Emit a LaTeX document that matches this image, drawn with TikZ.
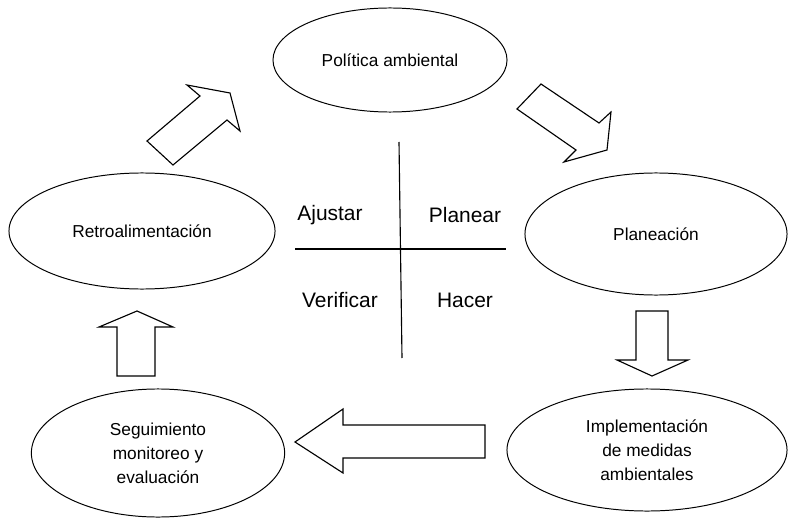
\documentclass[tikz,border=0pt]{standalone}
\usepackage{fontspec}
\setmainfont{Liberation Sans}
\usetikzlibrary{shapes.geometric}
\tikzset{
	etapa/.style = {draw, ellipse, line width=0.7pt, align=center, inner sep=0pt,
		font=\fontsize{12.3}{17}\selectfont},
	fase/.style = {font=\fontsize{14.9}{18}\selectfont},
	flecha/.style = {draw, line width=0.8pt, line join=miter}
}

\begin{document}
\begin{tikzpicture}[x=0.025cm, y=-0.025cm]
	\useasboundingbox (0,0) rectangle (788,518);
	
	% etapas del ciclo
	\node [etapa, minimum width=5.85cm, minimum height=2.6cm] (politica) at (390,60) {Política ambiental};
	\node [etapa, minimum width=6.55cm, minimum height=3.05cm] (planeacion) at (656,234) {Planeación};
	\node [etapa, minimum width=7.0cm, minimum height=3.05cm] (implementacion) at (647,450) {Implementación\\de medidas\\ambientales};
	\node [etapa, minimum width=6.33cm, minimum height=3.2cm] (seguimiento) at (158,453) {Seguimiento\\monitoreo y\\evaluación};
	\node [etapa, minimum width=6.65cm, minimum height=2.9cm] (retro) at (142,231) {Retroalimentación};
	
	% flechas de bloque
	\draw [flecha] (147,141) -- (173,165) -- (227,120) -- (240,131) -- (230,93) -- (187,85) -- (200,96) -- cycle;
	\draw [flecha] (541,84) -- (517,109) -- (576,150) -- (564,162) -- (607,150) -- (611,112) -- (599,123) -- cycle;
	\draw [flecha] (636,311) -- (668,311) -- (668,360) -- (688,360) -- (652,376) -- (617,360) -- (636,360) -- cycle;
	\draw [flecha] (485,425) -- (485,458) -- (343,458) -- (343,473) -- (295,442) -- (343,409) -- (343,425) -- cycle;
	\draw [flecha] (117,376) -- (155,376) -- (155,327) -- (173,327) -- (137,311) -- (99,327) -- (117,327) -- cycle;
	
	% cruz PHVA
	\coordinate (cruzN) at (399,142);
	\coordinate (cruzS) at (402,358);
	\coordinate (cruzO) at (295,249);
	\coordinate (cruzE) at (506,249);
	\draw [line width=0.8pt] (cruzN) -- (cruzS);
	\draw [line width=0.8pt] (cruzO) -- (cruzE);
	
	\node [fase] (ajustar) at (330,215) {Ajustar};
	\node [fase] (planear) at (465,215) {Planear};
	\node [fase] (verificar) at (340,300) {Verificar};
	\node [fase] (hacer) at (465,300) {Hacer};
	
\end{tikzpicture}
\end{document}
